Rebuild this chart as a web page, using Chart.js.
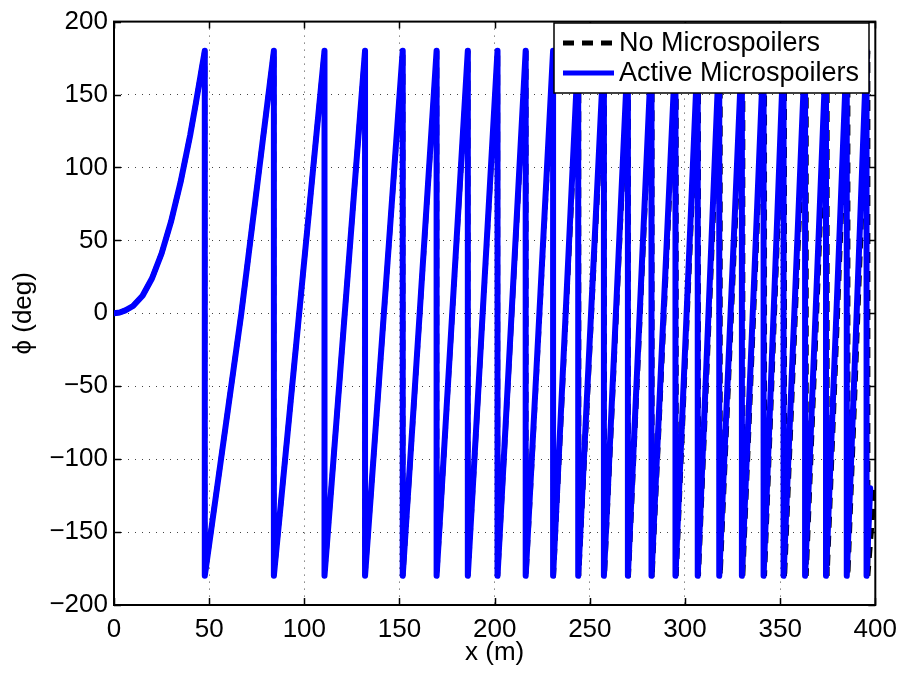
<!DOCTYPE html>
<html lang="en">
<head>
    <meta charset="UTF-8">
    <title>Roll angle vs distance</title>
    <script src="https://cdn.jsdelivr.net/npm/chart.js"></script>
    <style>
        html, body { margin: 0; padding: 0; background: #fff; }
        #wrap { width: 906px; height: 674px; position: relative; }
    </style>
</head>
<body>
    <div id="wrap">
        <canvas id="phiChart" width="906" height="674"></canvas>
    </div>

    <script>
        // values
        const xTicks = [0, 50, 100, 150, 200, 250, 300, 350, 400];
        const yTicks = [-200, -150, -100, -50, 0, 50, 100, 150, 200];

        const activeX = [0, 3, 6, 10, 15, 20, 25, 30, 35, 40, 43, 46, 47.7, 47.7, 66.9, 84.0, 84.0, 110.6, 110.6, 131.9, 131.9,
            151.7, 151.7, 169.5, 169.5, 185.9, 185.9, 201.5, 201.5, 216.3, 216.3, 230.7, 230.7, 243.9, 243.9,
            257.4, 257.4, 270.0, 270.0, 282.4, 282.4, 295.0, 295.0, 306.7, 306.7, 318.0, 318.0, 329.9, 329.9,
            341.3, 341.3, 351.8, 351.8, 363.1, 363.1, 374.1, 374.1, 385.0, 385.0, 395.4, 395.4, 397.3];
        const activeY = [0, 0.5, 2, 5, 12, 24, 41, 63, 90, 122, 144, 167, 180, -180, 0, 180, -180, 180, -180, 180, -180,
            180, -180, 180, -180, 180, -180, 180, -180, 180, -180, 180, -180, 180, -180,
            180, -180, 180, -180, 180, -180, 180, -180, 180, -180, 180, -180, 180, -180,
            180, -180, 180, -180, 180, -180, 180, -180, 180, -180, 180, -180, -120];

        const noneX = [0, 3, 6, 10, 15, 20, 25, 30, 35, 40, 43, 46, 47.7, 47.7, 66.9, 84.0, 84.0, 110.6, 110.6, 131.9, 131.9,
            151.8, 151.8, 169.6, 169.6, 186.0, 186.0, 201.6, 201.6, 216.5, 216.5, 230.9, 230.9, 244.2, 244.2,
            257.7, 257.7, 270.3, 270.3, 282.7, 282.7, 295.4, 295.4, 307.1, 307.1, 318.5, 318.5, 330.4, 330.4,
            341.8, 341.8, 352.3, 352.3, 363.7, 363.7, 374.7, 374.7, 385.6, 385.6, 396.1, 396.1, 399.8];
        const noneY = [0, 0.5, 2, 5, 12, 24, 41, 63, 90, 122, 144, 167, 180, -180, 0, 180, -180, 180, -180, 180, -180,
            180, -180, 180, -180, 180, -180, 180, -180, 180, -180, 180, -181, 180, -180,
            180, -180, 180, -181, 180, -182, 180, -180, 180, -180, 180, -180, 180, -180,
            180, -180, 180, -182, 180, -180, 180, -180, 180, -180, 180, -180, -118];

        const seriesNames = ["No Microspoilers", "Active Microspoilers"];

        function toPoints(xs, ys) {
            return xs.map((x, i) => ({ x: x, y: ys[i] }));
        }

        const FONT = "'Liberation Sans', Arial, Helvetica, sans-serif";

        // MATLAB style box with inward ticks
        const boxPlugin = {
            id: "box",
            beforeDatasetsDraw(chart) {
                const { ctx, chartArea: a, scales } = chart;
                ctx.save();
                ctx.strokeStyle = "#000";
                ctx.lineWidth = 1.5;
                ctx.beginPath();
                const len = 7;
                xTicks.forEach(v => {
                    const px = Math.round(scales.x.getPixelForValue(v)) + 0.5;
                    ctx.moveTo(px, a.bottom); ctx.lineTo(px, a.bottom - len);
                    ctx.moveTo(px, a.top); ctx.lineTo(px, a.top + len);
                });
                yTicks.forEach(v => {
                    const py = Math.round(scales.y.getPixelForValue(v)) + 0.5;
                    ctx.moveTo(a.left, py); ctx.lineTo(a.left + len, py);
                    ctx.moveTo(a.right, py); ctx.lineTo(a.right - len, py);
                });
                ctx.stroke();
                ctx.lineWidth = 2;
                ctx.strokeRect(a.left, a.top, a.right - a.left, a.bottom - a.top);
                ctx.restore();
            },
            afterDraw(chart) {
                const ctx = chart.ctx;
                const sets = chart.data.datasets;
                const bx = 554, by = 23, bw = 315, bh = 70;
                ctx.save();
                ctx.fillStyle = "#fff";
                ctx.fillRect(bx, by, bw, bh);
                ctx.strokeStyle = "#000";
                ctx.lineWidth = 1.5;
                ctx.strokeRect(bx, by, bw, bh);
                ctx.font = "27px " + FONT;
                ctx.textBaseline = "middle";
                ctx.fillStyle = "#000";
                sets.forEach((ds, i) => {
                    const cy = by + 20 + i * 30;
                    ctx.beginPath();
                    ctx.strokeStyle = ds.borderColor;
                    ctx.lineWidth = 5;
                    ctx.setLineDash(ds.borderDash || []);
                    ctx.moveTo(bx + 9, cy);
                    ctx.lineTo(bx + 60, cy);
                    ctx.stroke();
                    ctx.setLineDash([]);
                    ctx.fillText(ds.label, bx + 65, cy + 1);
                });
                ctx.restore();
            }
        };

        const gridOpts = {
            color: "#444",
            lineWidth: 1,
            drawTicks: false,
        };

        const ctx = document.getElementById("phiChart").getContext("2d");
        new Chart(ctx, {
            type: "scatter",
            data: {
                datasets: [
                    {
                        label: seriesNames[0],
                        data: toPoints(noneX, noneY),
                        showLine: true,
                        order: 1,
                        borderColor: "#000000",
                        borderWidth: 5,
                        borderDash: [11, 8],
                        pointRadius: 0,
                        fill: false,
                    },
                    {
                        label: seriesNames[1],
                        data: toPoints(activeX, activeY),
                        showLine: true,
                        order: 0,
                        borderColor: "#0000ff",
                        borderWidth: 6,
                        borderCapStyle: "round",
                        borderJoinStyle: "round",
                        pointRadius: 0,
                        fill: false,
                    },
                ],
            },
            options: {
                responsive: false,
                animation: false,
                layout: { padding: { top: 15, right: 29, left: 0, bottom: 0 } },
                plugins: {
                    legend: { display: false },
                    tooltip: { enabled: false },
                },
                scales: {
                    x: {
                        type: "linear",
                        min: 0,
                        max: 400,
                        afterBuildTicks: s => { s.ticks = xTicks.map(v => ({ value: v })); },
                        afterFit: s => { s.height = 69; },
                        border: { display: false, dash: [1, 6] },
                        grid: gridOpts,
                        ticks: {
                            color: "#000",
                            padding: 9,
                            maxRotation: 0,
                            font: { family: FONT, size: 26 },
                        },
                        title: {
                            display: true,
                            text: "x (m)",
                            color: "#000",
                            font: { family: FONT, size: 26 },
                            padding: { top: 0, bottom: 6 },
                        },
                    },
                    y: {
                        type: "linear",
                        min: -200,
                        max: 200,
                        afterBuildTicks: s => { s.ticks = yTicks.map(v => ({ value: v })); },
                        afterFit: s => { s.width = 114; },
                        border: { display: false, dash: [1, 6] },
                        grid: gridOpts,
                        ticks: {
                            color: "#000",
                            padding: 6,
                            font: { family: FONT, size: 26 },
                            callback: v => String(v).replace("-", "\u2212"),
                        },
                        title: {
                            display: true,
                            text: "\u03d5 (deg)",
                            color: "#000",
                            font: { family: FONT, size: 26 },
                            padding: { top: 8, bottom: 0 },
                        },
                    },
                },
            },
            plugins: [boxPlugin],
        });
    </script>
</body>
</html>
